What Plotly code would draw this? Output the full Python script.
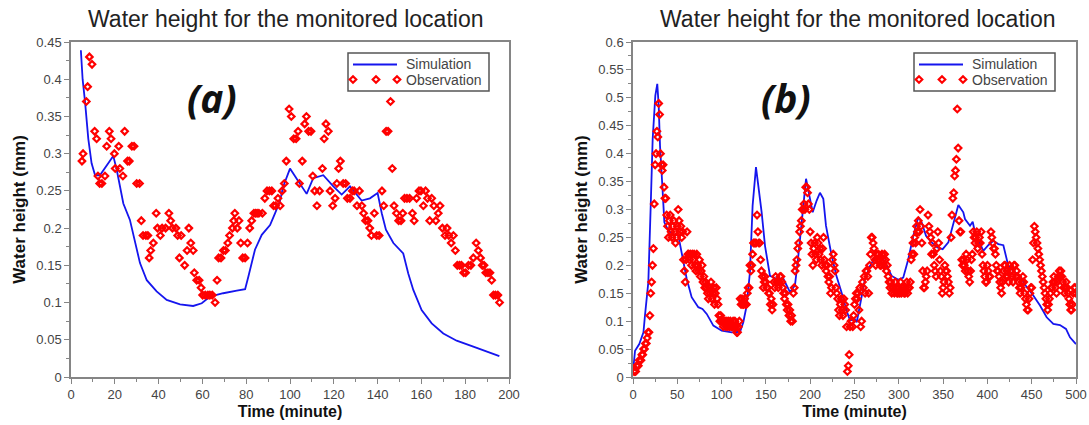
import plotly.graph_objects as go

# ---------------- Panel (a) data ----------------
sim_a_time = [4.5, 5.3, 6.4, 7.9, 9.4, 11, 13.2, 19.3, 20.9, 22.4, 23.9, 26.9, 29.2, 31.5, 34.6,
              39.1, 43.7, 49.8, 55.8, 59.7, 63.5, 69.5, 75.7, 79.5, 81, 84, 87.1, 90.9, 93.2,
              95.4, 96.9, 100, 103.8, 107.6, 110.6, 115.2, 119.8, 123.6, 127.4, 132.7, 136.5,
              140, 141.9, 143.8, 147.2, 151.7, 154, 156.3, 160.1, 164.7, 170, 176.1, 183.7,
              189.8, 195.6]
sim_a_height = [0.439, 0.40, 0.37, 0.32, 0.287, 0.271, 0.271, 0.297, 0.278, 0.256, 0.233, 0.211,
                0.184, 0.153, 0.130, 0.115, 0.1035, 0.0977, 0.0954, 0.099, 0.108, 0.1125, 0.116,
                0.118, 0.135, 0.171, 0.191, 0.204, 0.22, 0.236, 0.256, 0.28, 0.263, 0.246, 0.267,
                0.271, 0.256, 0.245, 0.256, 0.237, 0.24, 0.247, 0.22, 0.198, 0.18, 0.166, 0.139,
                0.117, 0.09, 0.072, 0.0585, 0.0488, 0.0407, 0.034, 0.028]

obs_a_time = [5, 5.5, 7, 7.6, 8.4, 9.6, 10.8, 11.7, 12.3, 13.1, 14.1, 15.5, 16.3, 17.5, 18.3, 19.8,
              20.2, 21.8, 22.3, 23.7, 24.5, 25.8, 26.6, 27.8, 28.8, 30, 31.3, 32.1, 32.9, 34.2,
              35.1, 35.7, 36.4, 37.6, 38.9, 39.5, 40.8, 41.6, 43.2, 44.7, 45.5, 46.3, 47.9, 48.7,
              49.5, 50.3, 51.9, 53, 53.8, 54.7, 55.8, 56.3, 57.4, 58.5, 59.4, 60.1, 61.3, 62.5,
              63.4, 64.5, 65.8, 66.7, 67.4, 68.5, 69.6, 70.5, 71.6, 72.4, 73.7, 74.3, 74.8, 75.9,
              76.7, 77.5, 78.4, 79.5, 80.6, 81.6, 82.5, 83.5, 84.3, 85, 85.8, 87.4, 88.5, 89.5,
              90.6, 91.7, 92.5, 93.4, 94.5, 95.5, 96.4, 97.4, 98.3, 99.6, 100.6, 101.7, 102.8,
              103.7, 104.3, 105.6, 106.7, 107.5, 108.5, 109.6, 110.4, 111.3, 112.3, 113.5, 114.8,
              115.6, 116.4, 117.5, 118.3, 119.5, 120.6, 121.4, 122.2, 123, 124.3, 125.4, 126.2,
              127.4, 128.5, 129.3, 130.6, 131.7, 132.8, 133.6, 134.5, 135.6, 136.4, 137.2, 138.5,
              139.6, 140.7, 142, 142.8, 143.9, 144.8, 145.9, 146.7, 147.5, 148.6, 149.6, 150.7,
              151.5, 152.3, 153.4, 154.6, 155.9, 156.7, 157.8, 158.9, 159.8, 160.9, 161.9, 162.8,
              163.8, 164.7, 165.7, 166.6, 167.7, 168.5, 169.6, 170.8, 171.7, 172.5, 173.6, 174.6,
              175.5, 176.4, 177.4, 178.3, 179.3, 180.2, 181.5, 182.6, 183.7, 185, 186, 187, 187.8,
              188.6, 189.4, 190.4, 191.3, 192.1, 192.9, 193.8, 194.9, 195.7]
obs_a_height = [0.29, 0.30, 0.37, 0.39, 0.43, 0.42, 0.33, 0.32, 0.27, 0.26, 0.26, 0.27, 0.31, 0.33,
                0.32, 0.30, 0.28, 0.31, 0.28, 0.27, 0.33, 0.29, 0.29, 0.31, 0.31, 0.26, 0.26, 0.21,
                0.19, 0.19, 0.19, 0.16, 0.17, 0.18, 0.22, 0.20, 0.19, 0.20, 0.20, 0.22, 0.21, 0.20,
                0.20, 0.19, 0.16, 0.19, 0.15, 0.17, 0.20, 0.18, 0.17, 0.14, 0.13, 0.13, 0.12, 0.11,
                0.11, 0.11, 0.11, 0.11, 0.10, 0.13, 0.16, 0.16, 0.17, 0.17, 0.18, 0.19, 0.20, 0.21,
                0.22, 0.20, 0.21, 0.18, 0.16, 0.16, 0.18, 0.20, 0.21, 0.22, 0.22, 0.22, 0.22, 0.22,
                0.24, 0.25, 0.25, 0.25, 0.23, 0.23, 0.24, 0.23, 0.25, 0.26, 0.29, 0.36, 0.35, 0.32,
                0.32, 0.33, 0.26, 0.29, 0.34, 0.35, 0.33, 0.33, 0.27, 0.25, 0.23, 0.25, 0.28, 0.32,
                0.34, 0.33, 0.25, 0.23, 0.24, 0.26, 0.28, 0.29, 0.26, 0.26, 0.24, 0.24, 0.25, 0.25,
                0.23, 0.25, 0.23, 0.22, 0.21, 0.21, 0.20, 0.19, 0.22, 0.19, 0.19, 0.25, 0.23, 0.33,
                0.33, 0.37, 0.28, 0.23, 0.22, 0.21, 0.21, 0.22, 0.24, 0.24, 0.24, 0.22, 0.21, 0.24,
                0.25, 0.25, 0.23, 0.25, 0.24, 0.21, 0.24, 0.23, 0.21, 0.22, 0.23, 0.20, 0.19, 0.20,
                0.19, 0.18, 0.19, 0.17, 0.15, 0.15, 0.15, 0.14, 0.14, 0.15, 0.15, 0.16, 0.18, 0.17,
                0.16, 0.15, 0.15, 0.14, 0.14, 0.14, 0.13, 0.11, 0.11, 0.11, 0.10]

# ---------------- Panel (b) data ----------------
sim_b_time = [0, 0.4, 2.3, 7.1, 11.8, 13.5, 17.3, 20, 22.2, 25.2, 27.4, 29, 30.5, 33.1, 35.4, 39.9,
              45.5, 51.2, 55, 60.6, 66.2, 73.7, 78.4, 83.2, 90.7, 100.1, 111.4, 120.8, 124.5,
              128.3, 132, 135, 138.8, 141.5, 145.2, 149, 154.6, 162.2, 169.7, 177.2, 182.8, 186.6,
              191.5, 195.3, 199, 202.8, 207.3, 211, 214.8, 217.8, 223.5, 229.4, 235.3, 241, 245,
              250, 252.5, 256, 261.9, 267.5, 273, 280.7, 286.3, 292, 299.5, 305, 310.7, 316.4,
              322, 325.8, 330.7, 337.1, 343.5, 349.5, 355.9, 360.8, 367.2, 372.8, 374.7, 380.4,
              383.4, 386, 389.7, 395.4, 401, 406.7, 412.3, 418, 423.6, 429.2, 436.8, 444.3, 451.8,
              459.4, 466.9, 474.4, 481.9, 488.7, 493.2, 500]
sim_b_height = [0.009, 0.014, 0.047, 0.059, 0.08, 0.11, 0.17, 0.307, 0.426, 0.504, 0.525, 0.486,
                0.414, 0.343, 0.277, 0.262, 0.256, 0.253, 0.223, 0.176, 0.143, 0.125, 0.122,
                0.113, 0.092, 0.083, 0.080, 0.081, 0.098, 0.128, 0.188, 0.307, 0.376, 0.343,
                0.295, 0.235, 0.181, 0.176, 0.176, 0.152, 0.164, 0.217, 0.295, 0.355, 0.325,
                0.295, 0.316, 0.330, 0.319, 0.271, 0.223, 0.182, 0.152, 0.119, 0.101, 0.104,
                0.098, 0.128, 0.176, 0.199, 0.214, 0.217, 0.199, 0.181, 0.174, 0.178, 0.211,
                0.253, 0.286, 0.277, 0.253, 0.241, 0.232, 0.229, 0.241, 0.271, 0.308, 0.295,
                0.283, 0.271, 0.278, 0.259, 0.247, 0.226, 0.236, 0.244, 0.238, 0.236, 0.199,
                0.190, 0.181, 0.161, 0.146, 0.128, 0.107, 0.095, 0.093, 0.086, 0.071, 0.059]

# observation sampled every minute, minutes 1..500
obs_b_time = list(range(1, 501))
obs_b_height = [
    0.01, 0.01, 0.01, 0.02, 0.02, 0.02, 0.03, 0.03, 0.03, 0.04,   # 1-10
    0.04, 0.05, 0.05, 0.06, 0.06, 0.07, 0.08, 0.08, 0.11, 0.15,   # 11-20
    0.17, 0.20, 0.23, 0.31, 0.38, 0.40, 0.44, 0.43, 0.49, 0.47,   # 21-30
    0.40, 0.38, 0.37, 0.38, 0.34, 0.32, 0.32, 0.29, 0.27, 0.25,   # 31-40
    0.28, 0.29, 0.26, 0.25, 0.27, 0.28, 0.26, 0.24, 0.25, 0.27,   # 41-50
    0.30, 0.28, 0.26, 0.27, 0.25, 0.26, 0.21, 0.19, 0.17, 0.21,   # 51-60
    0.26, 0.22, 0.22, 0.21, 0.22, 0.20, 0.22, 0.21, 0.22, 0.20,   # 61-70
    0.19, 0.22, 0.20, 0.19, 0.21, 0.18, 0.19, 0.20, 0.17, 0.18,   # 71-80
    0.16, 0.17, 0.16, 0.15, 0.14, 0.16, 0.15, 0.17, 0.14, 0.15,   # 81-90
    0.16, 0.13, 0.15, 0.16, 0.14, 0.13, 0.11, 0.10, 0.11, 0.10,   # 91-100
    0.10, 0.09, 0.10, 0.10, 0.09, 0.10, 0.09, 0.10, 0.09, 0.10,   # 101-110
    0.09, 0.09, 0.10, 0.09, 0.10, 0.09, 0.08, 0.08, 0.09, 0.10,   # 111-120
    0.14, 0.13, 0.14, 0.13, 0.13, 0.14, 0.13, 0.13, 0.15, 0.16,   # 121-130
    0.16, 0.20, 0.19, 0.20, 0.22, 0.24, 0.24, 0.24, 0.24, 0.29,   # 131-140
    0.26, 0.24, 0.24, 0.21, 0.19, 0.18, 0.16, 0.17, 0.18, 0.17,   # 141-150
    0.16, 0.16, 0.15, 0.15, 0.13, 0.14, 0.12, 0.13, 0.17, 0.16,   # 151-160
    0.18, 0.17, 0.17, 0.16, 0.17, 0.18, 0.18, 0.17, 0.16, 0.15,   # 161-170
    0.14, 0.15, 0.13, 0.12, 0.13, 0.11, 0.12, 0.10, 0.11, 0.10,   # 171-180
    0.15, 0.16, 0.19, 0.20, 0.21, 0.23, 0.24, 0.26, 0.27, 0.28,   # 181-190
    0.30, 0.30, 0.31, 0.30, 0.34, 0.34, 0.33, 0.31, 0.30, 0.26,   # 191-200
    0.24, 0.22, 0.20, 0.23, 0.24, 0.22, 0.21, 0.25, 0.24, 0.22,   # 201-210
    0.23, 0.21, 0.20, 0.23, 0.25, 0.21, 0.20, 0.19, 0.20, 0.18,   # 211-220
    0.17, 0.18, 0.15, 0.16, 0.21, 0.22, 0.20, 0.19, 0.16, 0.15,   # 221-230
    0.14, 0.12, 0.11, 0.13, 0.14, 0.12, 0.11, 0.14, 0.13, 0.12,   # 231-240
    0.09, 0.01, 0.02, 0.04, 0.09, 0.10, 0.10, 0.09, 0.11, 0.13,   # 241-250
    0.14, 0.15, 0.14, 0.15, 0.12, 0.16, 0.09, 0.10, 0.17, 0.16,   # 251-260
    0.18, 0.15, 0.19, 0.19, 0.18, 0.15, 0.20, 0.22, 0.25, 0.25,   # 261-270
    0.24, 0.23, 0.21, 0.20, 0.22, 0.21, 0.22, 0.21, 0.20, 0.20,   # 271-280
    0.22, 0.21, 0.20, 0.22, 0.21, 0.19, 0.20, 0.18, 0.17, 0.16,   # 281-290
    0.17, 0.15, 0.16, 0.16, 0.15, 0.17, 0.16, 0.15, 0.15, 0.16,   # 291-300
    0.15, 0.17, 0.15, 0.16, 0.16, 0.15, 0.15, 0.16, 0.17, 0.15,   # 301-310
    0.16, 0.16, 0.17, 0.21, 0.22, 0.24, 0.22, 0.25, 0.24, 0.27,   # 311-320
    0.26, 0.28, 0.26, 0.30, 0.27, 0.24, 0.19, 0.16, 0.16, 0.17,   # 321-330
    0.18, 0.19, 0.29, 0.27, 0.26, 0.25, 0.22, 0.24, 0.22, 0.20,   # 331-340
    0.19, 0.18, 0.23, 0.26, 0.24, 0.21, 0.19, 0.18, 0.15, 0.16,   # 341-350
    0.17, 0.20, 0.19, 0.19, 0.18, 0.17, 0.15, 0.16, 0.25, 0.29,   # 351-360
    0.32, 0.33, 0.36, 0.37, 0.39, 0.48, 0.41, 0.28, 0.26, 0.26,   # 361-370
    0.21, 0.20, 0.21, 0.20, 0.19, 0.22, 0.21, 0.19, 0.18, 0.17,   # 371-380
    0.19, 0.21, 0.22, 0.26, 0.25, 0.24, 0.25, 0.26, 0.23, 0.24,   # 381-390
    0.25, 0.24, 0.26, 0.22, 0.20, 0.19, 0.18, 0.17, 0.17, 0.20,   # 391-400
    0.19, 0.18, 0.18, 0.26, 0.25, 0.24, 0.23, 0.23, 0.22, 0.20,   # 401-410
    0.19, 0.19, 0.18, 0.17, 0.16, 0.15, 0.17, 0.19, 0.20, 0.20,   # 411-420
    0.18, 0.19, 0.18, 0.17, 0.20, 0.19, 0.19, 0.18, 0.17, 0.20,   # 421-430
    0.20, 0.18, 0.19, 0.18, 0.17, 0.16, 0.15, 0.16, 0.17, 0.18,   # 431-440
    0.17, 0.15, 0.14, 0.13, 0.12, 0.12, 0.14, 0.15, 0.16, 0.16,   # 441-450
    0.21, 0.24, 0.27, 0.26, 0.25, 0.24, 0.23, 0.22, 0.21, 0.20,   # 451-460
    0.19, 0.18, 0.17, 0.16, 0.15, 0.14, 0.13, 0.12, 0.13, 0.14,   # 461-470
    0.15, 0.16, 0.16, 0.17, 0.18, 0.17, 0.16, 0.15, 0.17, 0.18,   # 471-480
    0.19, 0.18, 0.19, 0.18, 0.17, 0.16, 0.15, 0.16, 0.17, 0.16,   # 481-490
    0.15, 0.14, 0.13, 0.12, 0.12, 0.13, 0.15, 0.16, 0.16, 0.15,   # 491-500
]

titles = ["Water height for the monitored location", "Water height for the monitored location"]
panel_labels = ["(a)", "(b)"]
series_names = ["Simulation", "Observation"]
x_title = "Time (minute)"
y_title = "Water height (mm)"

# ---------------- Styling ----------------
W, H = 1089, 425
ML, MR, MT, MB = 71, 13, 42, 48
PW, PH = W - ML - MR, H - MT - MB
BLUE = "#1515ee"
RED = "#ff0000"
FONT = "Liberation Sans, Arial, sans-serif"
AXC = "#858585"


def px_x(px):
    return (px - ML) / PW


def px_y(py):
    return (H - MB - py) / PH


marker_style = dict(symbol="diamond-open", size=5, color=RED, line=dict(width=2.2, color=RED))

fig = go.Figure()
fig.add_trace(go.Scatter(x=sim_a_time, y=sim_a_height, mode="lines", name=series_names[0],
                         line=dict(color=BLUE, width=1.8), xaxis="x", yaxis="y", showlegend=False))
fig.add_trace(go.Scatter(x=obs_a_time, y=obs_a_height, mode="markers", name=series_names[1],
                         marker=marker_style, xaxis="x", yaxis="y", showlegend=False))
fig.add_trace(go.Scatter(x=sim_b_time, y=sim_b_height, mode="lines", name=series_names[0],
                         line=dict(color=BLUE, width=1.8), xaxis="x2", yaxis="y2", showlegend=False))
fig.add_trace(go.Scatter(x=obs_b_time, y=obs_b_height, mode="markers", name=series_names[1],
                         marker=marker_style, xaxis="x2", yaxis="y2", showlegend=False))


def xax(domain, rng, dtick, minor, anchor):
    return dict(domain=domain, range=rng, dtick=dtick, tick0=0, anchor=anchor, automargin=False,
                ticks="outside", ticklen=5, tickwidth=1, tickcolor=AXC,
                showline=True, linecolor=AXC, linewidth=1.5, mirror=True,
                showgrid=False, zeroline=False,
                minor=dict(dtick=minor, ticks="outside", ticklen=3, tickcolor=AXC, showgrid=False),
                tickfont=dict(family=FONT, size=13, color="#444"),
                title=dict(text="<b>" + x_title + "</b>", font=dict(family=FONT, size=16, color="#111"),
                           standoff=4))


def yax(rng, anchor):
    return dict(range=rng, dtick=0.05, tick0=0, anchor=anchor, domain=[0, 1], automargin=False,
                ticks="outside", ticklen=5, tickwidth=1, tickcolor=AXC,
                showline=True, linecolor=AXC, linewidth=1.5, mirror=True,
                showgrid=False, zeroline=False,
                minor=dict(dtick=0.025, ticks="outside", ticklen=3, tickcolor=AXC, showgrid=False),
                tickfont=dict(family=FONT, size=13, color="#444"),
                title=dict(text="<b>" + y_title + "</b>", font=dict(family=FONT, size=17, color="#111"),
                           standoff=6))


# ---------------- custom legend (line sample + three diamonds, as in the original) ----------------
shapes = []
annotations = []


def add_legend(left_px):
    top, bottom = 53, 91
    right = left_px + 141
    shapes.append(dict(type="rect", xref="paper", yref="paper",
                       x0=px_x(left_px), x1=px_x(right), y0=px_y(bottom), y1=px_y(top),
                       line=dict(color="#555", width=1.5), fillcolor="white", layer="above"))
    ly = 64.5
    shapes.append(dict(type="line", xref="paper", yref="paper",
                       x0=px_x(left_px + 5), x1=px_x(left_px + 49), y0=px_y(ly), y1=px_y(ly),
                       line=dict(color=BLUE, width=2), layer="above"))
    oy = 79.5
    r = 3.3
    for cx in (left_px + 5, left_px + 28, left_px + 49):
        pts = [(cx, oy - r), (cx + r, oy), (cx, oy + r), (cx - r, oy)]
        path = "M " + " L ".join(f"{px_x(a):.5f},{px_y(b):.5f}" for a, b in pts) + " Z"
        shapes.append(dict(type="path", xref="paper", yref="paper", path=path,
                           line=dict(color=RED, width=2.2), fillcolor="white", layer="above"))
    for name, yy in ((series_names[0], ly), (series_names[1], oy)):
        annotations.append(dict(text=name, x=px_x(left_px + 56), y=px_y(yy), xref="paper", yref="paper",
                                showarrow=False, xanchor="left", yanchor="middle",
                                font=dict(family=FONT, size=14, color="#444")))


add_legend(348)
add_legend(914)

annotations += [
    dict(text=titles[0], x=px_x(285), y=px_y(19), xref="paper", yref="paper", showarrow=False,
         xanchor="center", yanchor="middle", font=dict(family=FONT, size=23, color="#222")),
    dict(text=titles[1], x=px_x(857), y=px_y(19), xref="paper", yref="paper", showarrow=False,
         xanchor="center", yanchor="middle", font=dict(family=FONT, size=23, color="#222")),
    dict(text=panel_labels[0], x=px_x(212), y=px_y(98), xref="paper", yref="paper", showarrow=False,
         xanchor="center", yanchor="middle",
         font=dict(family="Open Sans", size=39, color="#111", weight="bold", style="italic")),
    dict(text=panel_labels[1], x=px_x(786), y=px_y(97), xref="paper", yref="paper", showarrow=False,
         xanchor="center", yanchor="middle",
         font=dict(family="Open Sans", size=39, color="#111", weight="bold", style="italic")),
]

fig.update_layout(
    width=W, height=H, margin=dict(l=ML, r=MR, t=MT, b=MB, autoexpand=False),
    paper_bgcolor="white", plot_bgcolor="white", showlegend=False,
    xaxis=xax([0, px_x(509)], [0, 200], 20, 10, "y"),
    yaxis=yax([0, 0.45], "x"),
    xaxis2=xax([px_x(633), 1], [0, 500], 50, 25, "y2"),
    yaxis2=yax([0, 0.6], "x2"),
    shapes=shapes,
    annotations=annotations,
)

fig.write_html("out.html", config={"displayModeBar": False})
